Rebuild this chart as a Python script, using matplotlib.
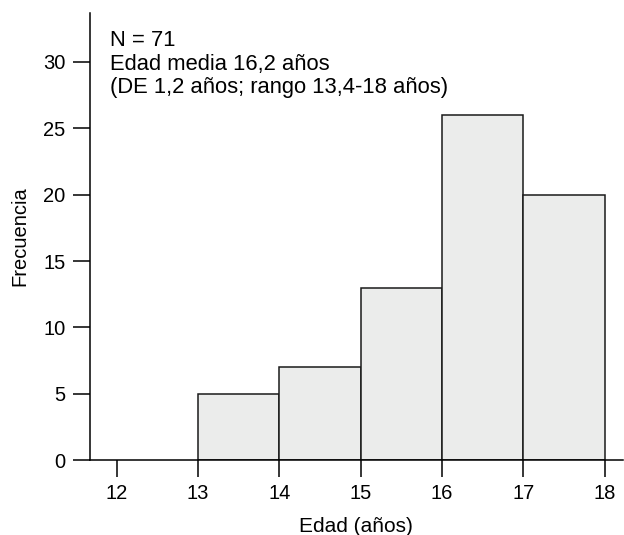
import matplotlib
matplotlib.use("Agg")
import matplotlib.pyplot as plt

# histogram bins (años) and counts
bin_edges = [13, 14, 15, 16, 17, 18]
counts = [5, 7, 13, 26, 20]
x_ticks = [12, 13, 14, 15, 16, 17, 18]
y_ticks = [0, 5, 10, 15, 20, 25, 30]
note_lines = ["N = 71", "Edad media 16,2 años", "(DE 1,2 años; rango 13,4-18 años)"]

plt.rcParams['font.family'] = ['Liberation Sans', 'DejaVu Sans']

fig = plt.figure(figsize=(6.24, 5.35), dpi=100)
ax = fig.add_axes([0.144, 0.140, 0.854, 0.836])

lefts = bin_edges[:-1]
widths = [b - a for a, b in zip(bin_edges[:-1], bin_edges[1:])]
ax.bar(lefts, counts, width=widths, align='edge', color='#ebeceb',
       edgecolor='#1a1a1a', linewidth=1.1)

ax.set_xlim(11.67, 18.22)
ax.set_ylim(0, 33.7)
ax.set_xticks(x_ticks)
ax.set_yticks(y_ticks)
ax.tick_params(direction='out', length=12, width=1.1, labelsize=14.5, pad=5.5)

for s in ['top', 'right']:
    ax.spines[s].set_visible(False)
for s in ['left', 'bottom']:
    ax.spines[s].set_linewidth(1.1)

ax.set_xlabel('Edad (años)', fontsize=15, labelpad=10)
ax.set_ylabel('Frecuencia', fontsize=14.5, labelpad=10)

ax.text(0.037, 0.962, "\n".join(note_lines), transform=ax.transAxes,
        ha='left', va='top', fontsize=15.8, linespacing=1.17)

fig.savefig('out.png', dpi=100)
